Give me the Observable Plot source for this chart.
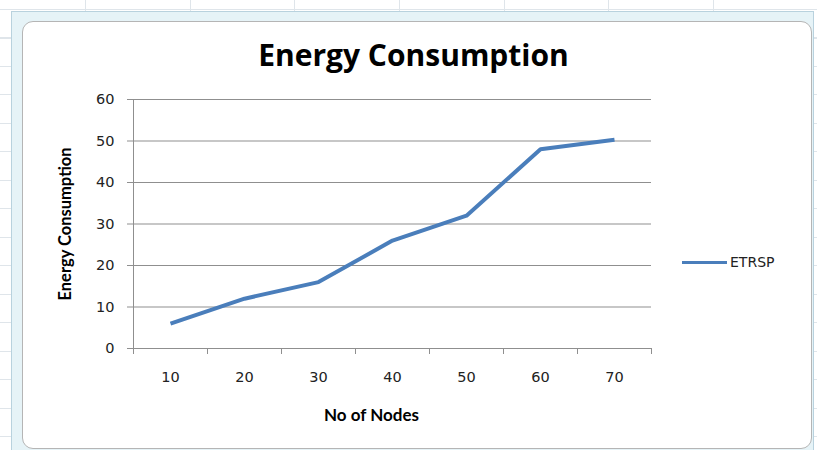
<!DOCTYPE html>
<html>
<head>
<meta charset="utf-8">
<script src="https://cdn.jsdelivr.net/npm/d3@7"></script>
<script src="https://cdn.jsdelivr.net/npm/@observablehq/plot@0.6"></script>
<style>
  html, body { margin: 0; padding: 0; }
  body {
    width: 817px; height: 450px; position: relative; overflow: hidden;
    background-color: #ffffff;
    background-image:
      repeating-linear-gradient(to right, transparent 0, transparent 85px, #dfe5ea 85px, #dfe5ea 86px, transparent 86px, transparent 104.7px),
      repeating-linear-gradient(to bottom, transparent 0, transparent 9px, #dfe5ea 9px, #dfe5ea 10px, transparent 10px, transparent 28.5px);
  }
  #frame {
    position: absolute; left: 11px; top: 11px; width: 803px; height: 445px;
    background: #e6f3f7; border: 1px solid #b9d2de; box-sizing: border-box;
  }
  #chartarea {
    position: absolute; left: 22px; top: 21px; width: 790px; height: 428px;
    background: #ffffff; border: 1px solid #b5b5b5; border-radius: 11px; box-sizing: border-box;
  }
  #plot { position: absolute; left: 0; top: 0; }
  #legend {
    position: absolute; left: 682px; top: 253px; height: 18px;
    font-family: "DejaVu Sans", Verdana, sans-serif; font-size: 14px; color: #222;
    display: flex; align-items: center;
  }
  #legend .sw { width: 45px; height: 3px; background: #4a7ebb; margin-right: 3px; }
</style>
</head>
<body>
<div id="frame"></div>
<div id="chartarea"></div>
<div id="plot"></div>
<div id="legend"><span class="sw"></span><span>ETRSP</span></div>
<script>
const nodes = [10, 20, 30, 40, 50, 60, 70];
const energy = [6, 12, 16, 26, 32, 48, 50.3];
const yTicks = [0, 10, 20, 30, 40, 50, 60];
const seriesName = "ETRSP";
const titleText = "Energy Consumption";
const xLabel = "No of Nodes";
const yLabel = "Energy Consumption";

const data = nodes.map((n, i) => ({n, v: energy[i]}));
const bounds = [...nodes.map(n => n - 5), nodes[nodes.length - 1] + 5];

const chart = Plot.plot({
  width: 817,
  height: 450,
  marginLeft: 133,
  marginRight: 166,
  marginTop: 99,
  marginBottom: 102,
  style: {background: "transparent", overflow: "visible"},
  x: {domain: [bounds[0], bounds[bounds.length - 1]], axis: null},
  y: {domain: [0, 60], axis: null},
  marks: [
    Plot.gridY(yTicks.filter(d => d > 0), {stroke: "#8f8f8f", strokeOpacity: 1, strokeWidth: 1}),
    Plot.ruleX([bounds[0]], {stroke: "#8f8f8f", strokeWidth: 1}),
    Plot.ruleY([0], {stroke: "#8f8f8f", strokeWidth: 1}),
    Plot.axisY({ticks: yTicks, tickSize: 6, tickPadding: 13, stroke: "#8f8f8f",
      fontSize: 14.5, fontFamily: "DejaVu Sans", fill: "#222", label: null}),
    Plot.axisX({ticks: bounds, tickSize: 6, tickFormat: () => "", stroke: "#8f8f8f", label: null}),
    Plot.axisX({ticks: nodes, tickSize: 0, tickPadding: 23, fontSize: 14.5,
      fontFamily: "DejaVu Sans", fill: "#222", label: null}),
    Plot.line(data, {x: "n", y: "v", stroke: "#4a7ebb", strokeWidth: 4, strokeLinejoin: "round", strokeLinecap: "butt"}),
    Plot.text([titleText], {frameAnchor: "top", dy: -55, dx: 21, fontSize: 30, fontWeight: "bold",
      fontFamily: "Open Sans", fill: "#000", lineAnchor: "top", letterSpacing: "1.4px"}),
    Plot.text([xLabel], {frameAnchor: "bottom", dy: 67, dx: -21, fontSize: 17, fontWeight: "bold",
      fontFamily: "Lato", fill: "#000", lineAnchor: "middle"}),
    Plot.text([yLabel], {frameAnchor: "left", dx: -68, rotate: -90, textAnchor: "middle", fontSize: 16.5, fontWeight: "bold",
      fontFamily: "Lato", fill: "#000"})
  ]
});
document.getElementById("plot").appendChild(chart);
</script>
</body>
</html>
